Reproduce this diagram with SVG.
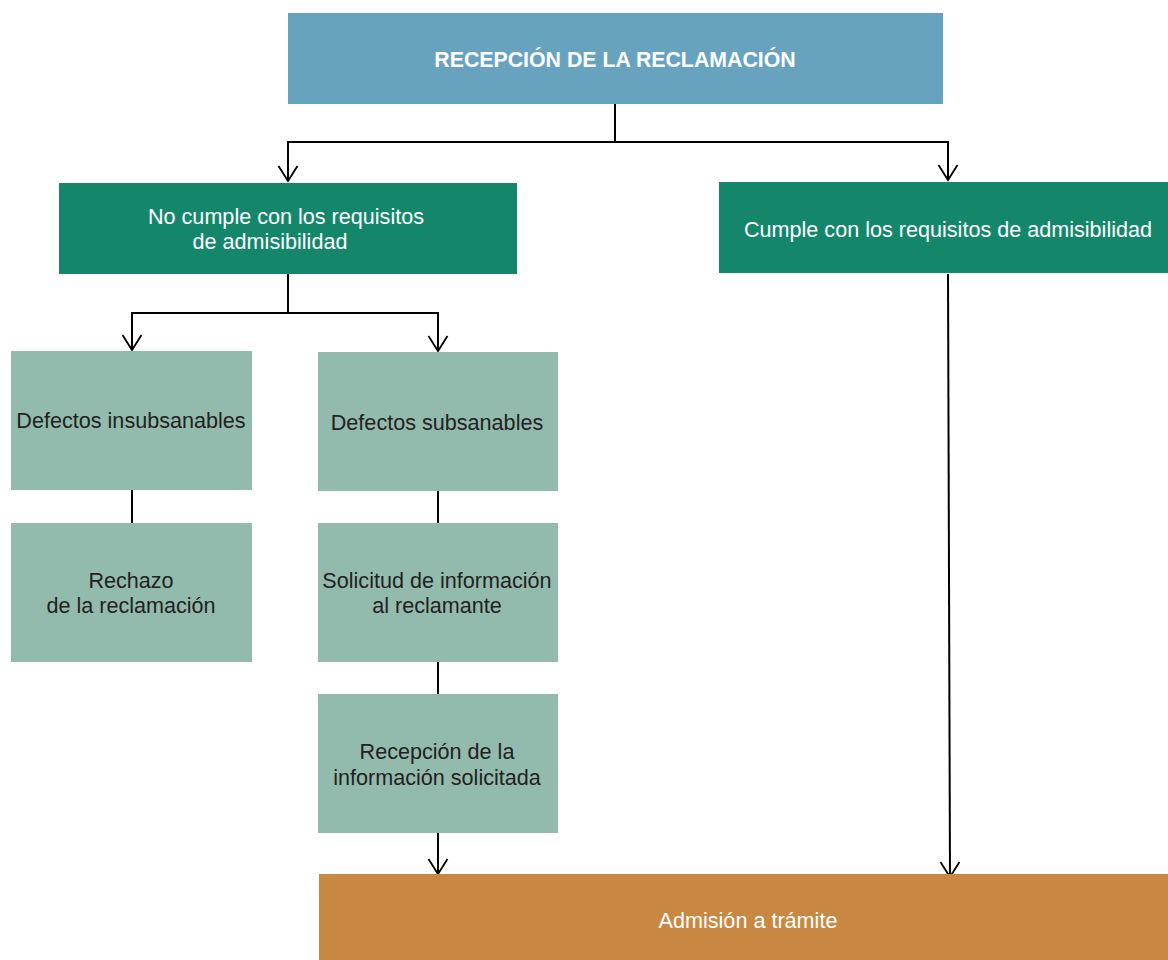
<svg xmlns="http://www.w3.org/2000/svg" width="1168" height="960" viewBox="0 0 1168 960">
<defs>
<marker id="arr" markerWidth="24" markerHeight="24" refX="20" refY="12" orient="auto" markerUnits="userSpaceOnUse" viewBox="0 0 24 24">
<path d="M5 2.5 L20 12 L5 21.5" fill="none" stroke="#000" stroke-width="1.8"/>
</marker>
<style>
text{font-family:"Liberation Sans",Arial,sans-serif;font-size:21.6px;text-anchor:middle}
.w{fill:#fff}
.d{fill:#222}
.b{font-weight:bold;font-size:21.3px}
.c{fill:none;stroke:#000;stroke-width:2}
.top{fill:#67a3bf}
.g{fill:#14876b}
.l{fill:#93bbad}
.o{fill:#c98842}
</style>
</defs>
<rect width="1168" height="960" fill="#fff"/>
<g id="connectors">
<path class="c" d="M615 104 V142 H288 V181" marker-end="url(#arr)"/>
<path class="c" d="M615 142 H948 V180" marker-end="url(#arr)"/>
<path class="c" d="M288 274 V313 H132 V350" marker-end="url(#arr)"/>
<path class="c" d="M288 313 H438 V351" marker-end="url(#arr)"/>
<path class="c" d="M132 490 V523"/>
<path class="c" d="M438 491 V523"/>
<path class="c" d="M438 662 V694"/>
<path class="c" d="M438 833 V874" marker-end="url(#arr)"/>
<path class="c" d="M948 274 L950 877" marker-end="url(#arr)"/>
</g>
<g id="recepcion">
<rect class="top" x="288" y="13" width="655" height="91"/>
<text class="w b" x="615" y="67">RECEPCIÓN DE LA RECLAMACIÓN</text>
</g>
<g id="no-cumple">
<rect class="g" x="59" y="183" width="458" height="91"/>
<text class="w" x="286" y="224">No cumple con los requisitos</text>
<text class="w" x="270" y="249">de admisibilidad</text>
</g>
<g id="cumple">
<rect class="g" x="719" y="182" width="449" height="91"/>
<text class="w" x="948" y="237">Cumple con los requisitos de admisibilidad</text>
</g>
<g id="insubsanables">
<rect class="l" x="11" y="351" width="241" height="139"/>
<text class="d" x="131" y="428">Defectos insubsanables</text>
</g>
<g id="subsanables">
<rect class="l" x="318" y="352" width="240" height="139"/>
<text class="d" x="437" y="430">Defectos subsanables</text>
</g>
<g id="rechazo">
<rect class="l" x="11" y="523" width="241" height="139"/>
<text class="d" x="131" y="588">Rechazo</text>
<text class="d" x="131" y="613">de la reclamación</text>
</g>
<g id="solicitud">
<rect class="l" x="318" y="523" width="240" height="139"/>
<text class="d" x="437" y="588">Solicitud de información</text>
<text class="d" x="437" y="613">al reclamante</text>
</g>
<g id="recepcion-info">
<rect class="l" x="318" y="694" width="240" height="139"/>
<text class="d" x="437" y="759">Recepción de la</text>
<text class="d" x="437" y="785">información solicitada</text>
</g>
<g id="admision">
<rect class="o" x="319" y="874" width="849" height="86"/>
<text class="w" x="748" y="928">Admisión a trámite</text>
</g>
</svg>
